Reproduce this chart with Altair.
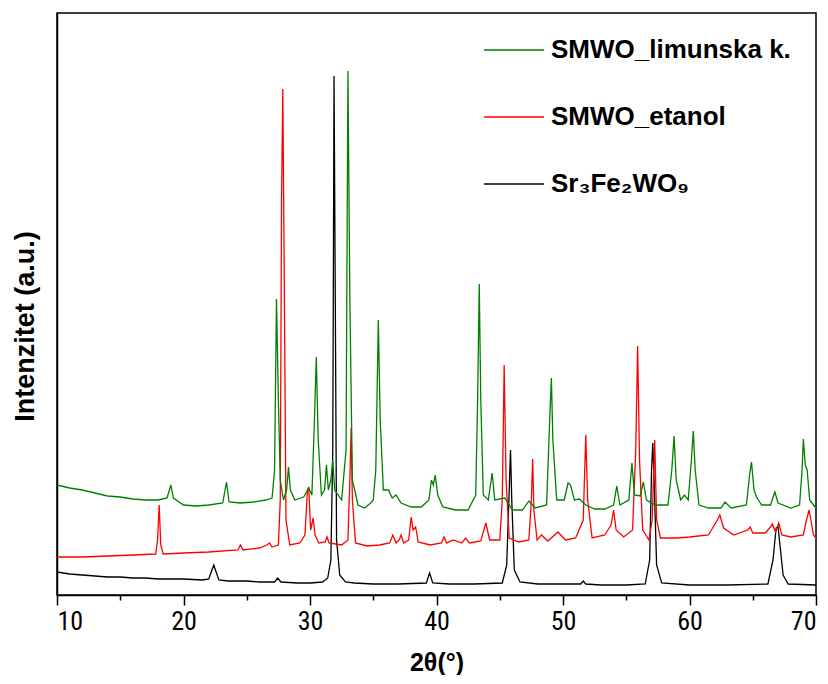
import altair as alt
import pandas as pd

# ---- data (2theta in degrees, intensity in arbitrary units) ----
black_name = "Sr₃Fe₂WO₉"
red_name = "SMWO_etanol"
green_name = "SMWO_limunska k."

black_x = [10.0, 11, 12, 13, 14, 15, 16, 17, 18, 19, 20, 21.5, 22.0, 22.25, 22.4, 22.55, 22.8, 23.5,
           25, 26, 27.2, 27.45, 27.7, 29, 30, 31.0, 31.4, 31.65, 31.8, 31.9, 32.0, 32.1, 32.35, 32.8,
           33.5, 35, 37, 39.2, 39.45, 39.7, 41, 43, 45.2, 45.55, 45.75, 45.85, 45.95, 46.15, 46.6, 48,
           50, 51.4, 51.6, 51.8, 53, 55, 56.5, 56.85, 57.0, 57.1, 57.2, 57.4, 57.8, 60, 63, 66.2, 66.6,
           66.85, 67.0, 67.15, 67.4, 67.8, 70]
black_y = [23, 21, 20, 19, 18, 18, 17, 17, 16, 16, 16, 15, 16, 25, 30, 24, 15, 14,
           14, 13, 13, 17, 13, 12, 12, 13, 17, 35, 145, 519, 295, 55, 20, 13,
           12, 11, 11, 12, 22, 12, 11, 11, 12, 30, 105, 145, 95, 25, 13, 11,
           11, 11, 14, 11, 10, 10, 11, 35, 125, 152, 115, 30, 12, 10, 10, 11, 35,
           67, 68, 50, 20, 11, 10]

red_x = [10.0, 12, 14, 16, 17.8, 17.95, 18.08, 18.2, 18.4, 20, 22, 24.3, 24.5, 24.7, 26, 26.6, 26.8,
         27.0, 27.5, 27.65, 27.75, 27.85, 27.95, 28.1, 28.4, 29.2, 29.6, 29.8, 29.9, 30.05, 30.25,
         30.4, 30.7, 31.2, 31.35, 31.5, 32.5, 33.0, 33.15, 33.25, 33.35, 33.6, 34.5, 35.5, 36.3,
         36.55, 36.8, 37.05, 37.2, 37.4, 37.8, 38.0, 38.15, 38.35, 38.55, 39.5, 40.4, 40.6, 40.8,
         41.3, 42.0, 42.3, 42.6, 43.5, 43.9, 44.2, 45.0, 45.2, 45.35, 45.5, 45.75, 46.5, 47.3, 47.5,
         47.6, 47.7, 47.95, 48.3, 48.8, 49.6, 50.2, 51.0, 51.6, 51.8, 51.95, 52.3, 53.3, 53.8, 54.0,
         54.2, 54.8, 55.5, 55.75, 55.9, 56.05, 56.3, 56.8, 57.05, 57.25, 57.4, 57.7, 59, 60, 61.5,
         62.2, 62.4, 62.7, 63.5, 64.6, 64.8, 65.0, 66, 66.4, 66.55, 66.8, 67.05, 67.3, 68, 69.0,
         69.25, 69.45, 69.6, 69.8, 70]
red_y = [38, 38, 39, 40, 41, 55, 90, 50, 41, 42, 43, 45, 50, 45, 47, 50, 52,
         48, 50, 95, 395, 506, 345, 75, 50, 52, 60, 105, 108, 65, 77,
         60, 52, 53, 58, 52, 50, 55, 115, 167, 95, 52, 49, 50, 52,
         60, 52, 55, 60, 52, 55, 78, 65, 68, 53, 50, 52, 58, 52,
         55, 52, 57, 52, 54, 72, 55, 55, 95, 230, 115, 57, 53, 55, 95,
         136, 85, 55, 60, 54, 63, 55, 57, 75, 160, 95, 57, 60, 70, 85,
         65, 58, 65, 145, 249, 135, 65, 55, 75, 155, 75, 57, 57, 58, 60,
         75, 80, 67, 60, 65, 68, 62, 62, 68, 71, 63, 72, 60, 58, 60,
         75, 85, 75, 60, 57]

green_x = [10.0, 11, 12, 13, 14, 15, 16, 17, 18, 18.7, 19.0, 19.2, 20, 21, 22, 23.1, 23.4, 23.6,
           24.5, 25.5, 26.5, 27.0, 27.2, 27.35, 27.5, 27.65, 27.9, 28.15, 28.3, 28.45, 28.8, 29.5,
           29.9, 30.15, 30.35, 30.5, 30.65, 30.9, 31.15, 31.3, 31.45, 31.65, 31.8, 31.95, 32.5,
           32.85, 33.0, 33.15, 33.35, 33.8, 34.3, 34.8, 35.0, 35.2, 35.4, 35.55, 35.8, 36.2, 36.5,
           36.8, 37.2, 38.0, 38.8, 39.4, 39.6, 39.75, 39.9, 40.1, 40.5, 41.5, 42.5, 43.1, 43.25,
           43.38, 43.5, 43.7, 44.1, 44.4, 44.6, 45.4, 46, 46.8, 47.3, 47.8, 48.7, 48.95, 49.08,
           49.2, 49.5, 50.1, 50.4, 50.6, 50.9, 51.3, 51.8, 52.5, 53.3, 54.0, 54.25, 54.5, 55.2,
           55.45, 55.65, 56.1, 56.35, 56.6, 57.3, 58.3, 58.6, 58.78, 58.95, 59.3, 59.6, 59.9, 60.15,
           60.3, 60.45, 60.75, 61.5, 62.5, 62.8, 63.3, 64.5, 64.75, 64.9, 65.1, 65.3, 65.7, 66.4,
           66.75, 67.0, 68.0, 68.7, 68.9, 69.0, 69.15, 69.3, 69.5, 70]
green_y = [110, 107, 105, 102, 99, 98, 96, 95, 95, 97, 110, 97, 90, 89, 90, 92, 113, 93,
           92, 93, 95, 97, 125, 296, 195, 115, 95, 105, 128, 105, 95, 98,
           107, 100, 175, 238, 155, 100, 105, 130, 105, 115, 135, 105, 95,
           145, 524, 295, 115, 90, 87, 92, 95, 125, 275, 175, 105, 105, 97,
           100, 92, 88, 88, 95, 115, 110, 120, 100, 88, 85, 85, 100, 195,
           311, 195, 100, 95, 122, 95, 97, 85, 85, 94, 87, 90, 175, 217,
           155, 95, 95, 112, 110, 95, 96, 90, 86, 86, 90, 109, 90, 95,
           132, 100, 99, 113, 95, 90, 90, 125, 159, 115, 95, 100, 95, 135,
           164, 125, 90, 87, 87, 93, 87, 90, 120, 133, 105, 98, 90, 90,
           103, 92, 87, 90, 125, 156, 130, 125, 95, 87]

series_order = [green_name, red_name, black_name]
series_colors = ["#008000", "#ff0000", "#000000"]
major_ticks = [10, 20, 30, 40, 50, 60, 70]
minor_ticks = [15, 25, 35, 45, 55, 65]

rows = []
for name, xs, ys in [(black_name, black_x, black_y), (red_name, red_x, red_y), (green_name, green_x, green_y)]:
    for i, (a, b) in enumerate(zip(xs, ys)):
        rows.append({"series": name, "two_theta": a, "intensity": b, "idx": i})
df = pd.DataFrame(rows)
minor_df = pd.DataFrame({"two_theta": minor_ticks})

x_scale = alt.Scale(domain=[10, 70], nice=False, zero=False)
narrow = "Liberation Sans Narrow, Arial Narrow, Roboto Condensed, DejaVu Sans Condensed, Liberation Sans"

lines = alt.Chart(df).mark_line(strokeWidth=1.3).encode(
    x=alt.X("two_theta:Q", scale=x_scale,
            axis=alt.Axis(values=major_ticks, tickSize=10, tickWidth=1.5, tickColor="black",
                          domainColor="black", domainWidth=1.5, grid=False,
                          labelFont=narrow, labelFontSize=26,
                          labelColor="black", labelPadding=3,
                          title="2θ(°)", titleFont="Liberation Sans", titleFontSize=25,
                          titleFontWeight="bold", titleColor="black",
                          titleBaseline="middle", titleY=67)),
    y=alt.Y("intensity:Q", scale=alt.Scale(domain=[0, 582], nice=False, zero=True),
            axis=alt.Axis(labels=False, ticks=False, grid=False, domainColor="black", domainWidth=1.5,
                          title="Intenzitet (a.u.)", titleFont="Liberation Sans", titleFontSize=27,
                          titleFontWeight="bold", titleColor="black", titleAngle=270,
                          titleX=-32, titleY=313, titleAlign="center", titleBaseline="middle")),
    color=alt.Color("series:N", scale=alt.Scale(domain=series_order, range=series_colors),
                    legend=alt.Legend(orient="none", legendX=426, legendY=6, title=None,
                                      symbolType="stroke", symbolSize=3600, symbolStrokeWidth=1.5,
                                      labelFont="Liberation Sans", labelFontWeight="bold",
                                      labelFontSize=26, labelColor="black", labelOffset=6,
                                      rowPadding=23, padding=0, labelLimit=400)),
    order="idx:Q",
)

minor = alt.Chart(minor_df).mark_point(opacity=0).encode(
    x=alt.X("two_theta:Q", scale=x_scale,
            axis=alt.Axis(values=minor_ticks, tickSize=5, tickWidth=1.5, tickColor="black",
                          domain=False, labels=False, grid=False, title="", orient="bottom")),
)

chart = alt.layer(lines, minor).resolve_axis(x="independent").properties(
    width=759, height=582,
    background="white",
    padding={"left": 49, "top": 5, "right": 4, "bottom": 80},
    autosize=alt.AutoSizeParams(type="none"),
).configure_view(stroke="black", strokeWidth=1.5)

chart.save("out.html", embed_options={"renderer": "svg", "actions": False})
